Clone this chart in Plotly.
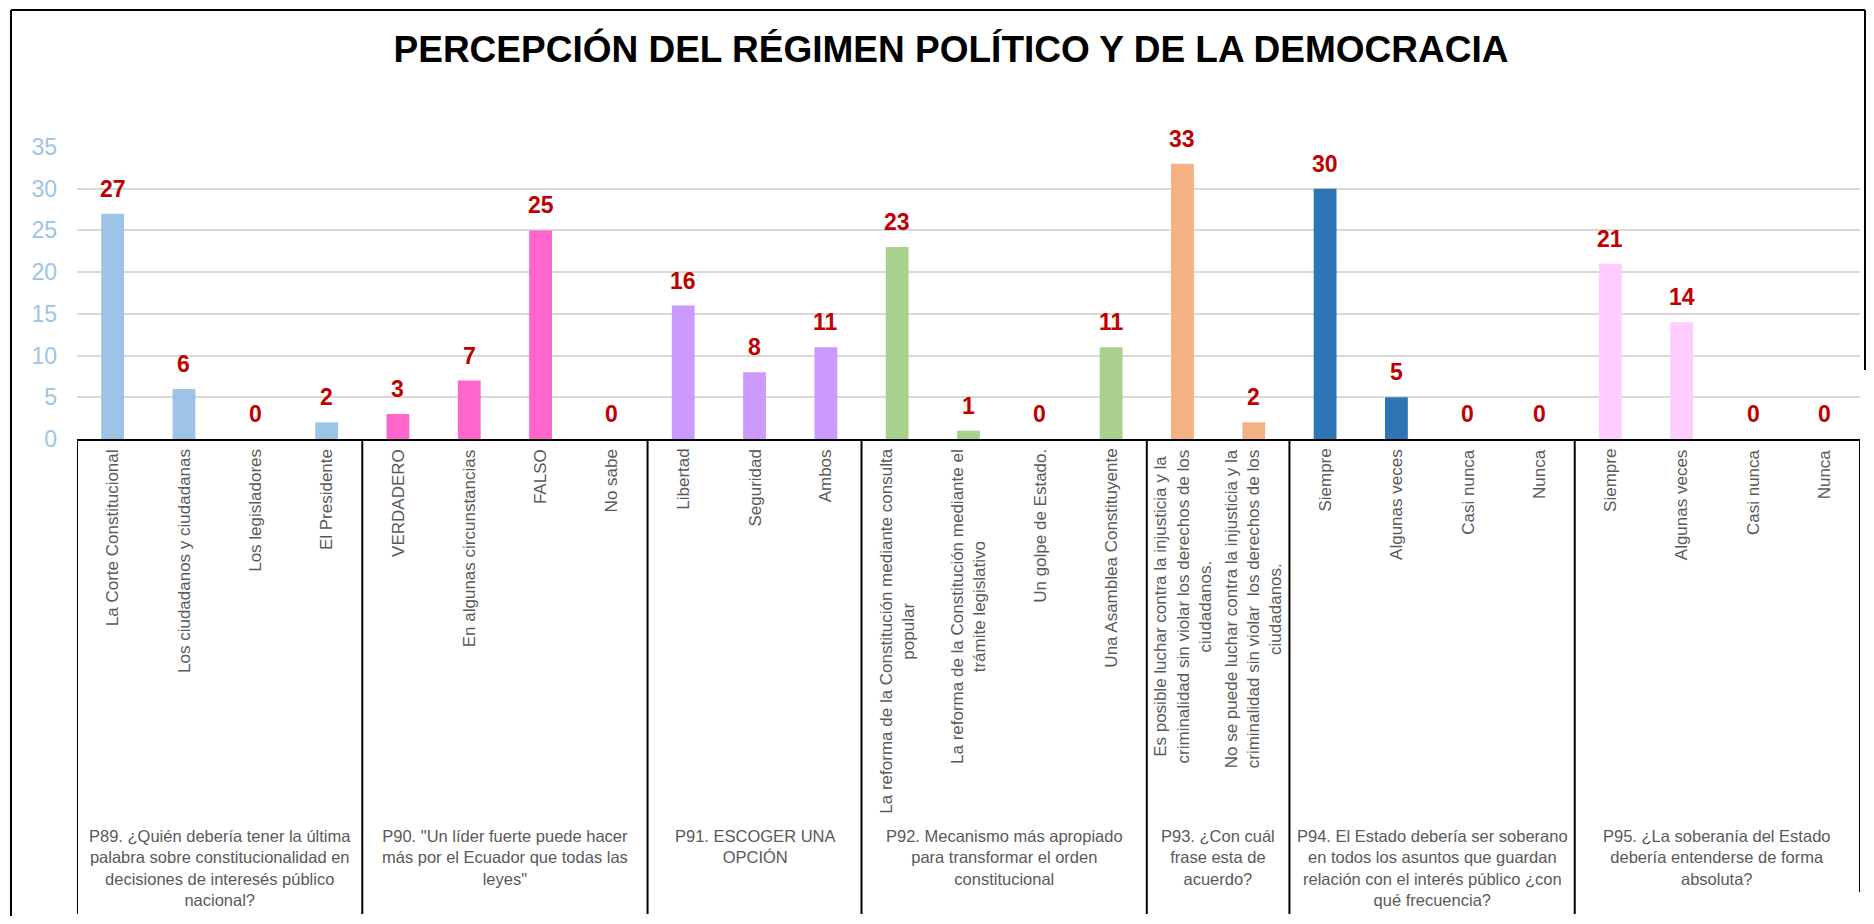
import plotly.graph_objects as go

# ---------------- data ----------------
title_text = "PERCEPCIÓN DEL RÉGIMEN POLÍTICO Y DE LA DEMOCRACIA"

group_labels = [
    "P89. ¿Quién debería tener la última<br>palabra sobre constitucionalidad en<br>decisiones de interesés público<br>nacional?",
    "P90. \"Un líder fuerte puede hacer<br>más por el Ecuador que todas las<br>leyes\"",
    "P91. ESCOGER UNA<br>OPCIÓN",
    "P92. Mecanismo más apropiado<br>para transformar el orden<br>constitucional",
    "P93. ¿Con cuál<br>frase esta de<br>acuerdo?",
    "P94. El Estado debería ser soberano<br>en todos los asuntos que guardan<br>relación con el interés público ¿con<br>qué frecuencia?",
    "P95. ¿La soberanía del Estado<br>debería entenderse de forma<br>absoluta?",
]
group_sizes = [4, 4, 3, 4, 2, 4, 4]
group_colors = ["#9DC3E6", "#FF66CC", "#CC99FF", "#A9D18E", "#F4B183", "#2E75B6", "#FFCCFF"]

categories = [
    "La Corte Constitucional", "Los ciudadanos y ciudadanas", "Los legisladores", "El Presidente",
    "VERDADERO", "En algunas circunstancias", "FALSO", "No sabe",
    "Libertad", "Seguridad", "Ambos",
    "La reforma de la Constitución mediante consulta<br>popular",
    "La reforma de la Constitución mediante el<br>trámite legislativo",
    "Un golpe de Estado.", "Una Asamblea Constituyente",
    "Es posible luchar contra la injusticia y la<br>criminalidad sin violar los derechos de los<br>ciudadanos.",
    "No se puede luchar contra la injusticia y la<br>criminalidad sin violar  los derechos de los<br>ciudadanos.",
    "Siempre", "Algunas veces", "Casi nunca", "Nunca",
    "Siempre", "Algunas veces", "Casi nunca", "Nunca",
]
values = [27, 6, 0, 2,
          3, 7, 25, 0,
          16, 8, 11,
          23, 1, 0, 11,
          33, 2,
          30, 5, 0, 0,
          21, 14, 0, 0]

y_ticks = [0, 5, 10, 15, 20, 25, 30, 35]

# ---------------- geometry helpers ----------------
OFF = 8                       # page body margin
W, H = 1874 - 2 * OFF, 924 - 2 * OFF
ML, MT, PH = 77 - OFF, 147 - OFF, 292
MR = W - (1860 - OFF)
MB = H - MT - PH
PW = W - ML - MR


def py(px_y):
    """target-screen pixel y -> paper y"""
    return (H - MB - (px_y - OFF)) / PH


def pxx(px_x):
    return (px_x - OFF - ML) / PW


FONT = "Liberation Sans, Arial, sans-serif"

fig = go.Figure()

# bars, one trace per question group
start = 0
for g, n in enumerate(group_sizes):
    xs = list(range(start, start + n))
    fig.add_trace(go.Bar(
        x=xs, y=values[start:start + n],
        marker=dict(color=group_colors[g], line=dict(width=0)),
        width=0.32, showlegend=False, hoverinfo="y",
    ))
    start += n

annotations = []
# data labels
for i, v in enumerate(values):
    annotations.append(dict(
        x=i, y=v, xref="x", yref="y", text=f"<b>{v}</b>", showarrow=False,
        yanchor="bottom", xanchor="center", yshift=10,
        font=dict(family=FONT, size=23, color="#C00000"),
    ))

# category labels (rotated)
for i, c in enumerate(categories):
    annotations.append(dict(
        x=i, y=py(447), xref="x", yref="paper", text=c, showarrow=False,
        textangle=-90, xanchor="center", yanchor="top", align="center",
        font=dict(family=FONT, size=17, color="#595959"),
    ))

# group labels
shapes = []
start = 0
bounds = [-0.5]
for g, n in enumerate(group_sizes):
    center = start + (n - 1) / 2
    annotations.append(dict(
        x=center, y=py(825), xref="x", yref="paper", text=group_labels[g],
        showarrow=False, xanchor="center", yanchor="top", align="center",
        font=dict(family=FONT, size=16.5, color="#595959"),
    ))
    start += n
    bounds.append(start - 0.5)

for k, b in enumerate(bounds):
    bottom = 892 if k == len(bounds) - 1 else 914
    shapes.append(dict(type="line", xref="x", yref="paper",
                       x0=b, x1=b, y0=0, y1=py(bottom),
                       line=dict(color="black", width=2)))

# outer chart frame (left, top, right)
FL, FT, FR = 11, 10, 1865
shapes.append(dict(type="line", xref="paper", yref="paper",
                   x0=pxx(FL), x1=pxx(FL), y0=py(FT), y1=py(924),
                   line=dict(color="black", width=2)))
shapes.append(dict(type="line", xref="paper", yref="paper",
                   x0=pxx(FL), x1=pxx(FR), y0=py(FT), y1=py(FT),
                   line=dict(color="black", width=2)))
shapes.append(dict(type="line", xref="paper", yref="paper",
                   x0=pxx(FR), x1=pxx(FR), y0=py(FT), y1=py(370),
                   line=dict(color="black", width=2)))

fig.update_layout(
    width=W, height=H,
    margin=dict(l=ML, r=MR, t=MT, b=MB, pad=0),
    paper_bgcolor="white", plot_bgcolor="white",
    title=dict(text=f"<b>{title_text}</b>", xref="container", yref="container",
               x=(951 - OFF) / W, y=1 - (49 - OFF) / H, xanchor="center", yanchor="middle",
               font=dict(family=FONT, size=37, color="black")),
    xaxis=dict(range=[-0.5, 24.5], showticklabels=False, showgrid=False,
               zeroline=False, showline=True, linecolor="black", linewidth=2,
               fixedrange=True),
    yaxis=dict(range=[0, 35], tickvals=y_ticks, showgrid=True, gridcolor="#D9D9D9",
               gridwidth=1.5, zeroline=False, showline=False, ticks="",
               ticklabelstandoff=19,
               tickfont=dict(family=FONT, size=23, color="#9DC3E6"), fixedrange=True),
    annotations=annotations,
    shapes=shapes,
    bargap=0.68,
)

fig.write_html("out.html")
